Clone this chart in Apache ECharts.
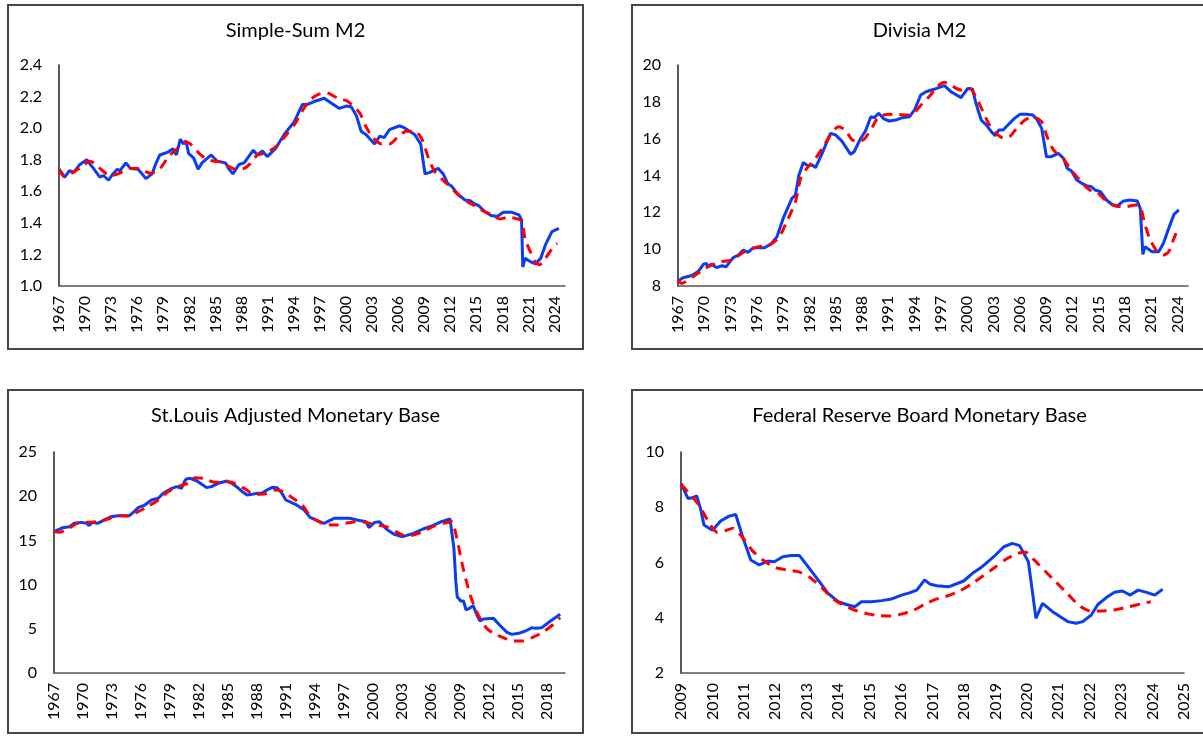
<!DOCTYPE html>
<html>
<head>
<meta charset="utf-8">
<title>Monetary aggregates</title>
<script src="https://cdn.jsdelivr.net/npm/echarts@6/dist/echarts.min.js"></script>
<style>
  html, body { margin: 0; padding: 0; background: #fff; overflow: hidden; }
  body { width: 1203px; height: 736px; position: relative; }
  .panel { position: absolute; box-sizing: border-box; border: 2px solid #474747; background: #fff; }
</style>
</head>
<body>
<div class="panel" id="p1" style="left:7px;top:4px;width:577px;height:346px"></div>
<div class="panel" id="p2" style="left:631px;top:4px;width:577px;height:346px"></div>
<div class="panel" id="p3" style="left:7px;top:389px;width:577px;height:345px"></div>
<div class="panel" id="p4" style="left:631px;top:389px;width:577px;height:345px"></div>
<script>
// [year, value]
const simpleSumActual = [
  [1967.0,1.74],[1967.65,1.69],[1968.2,1.73],[1968.7,1.72],[1969.4,1.77],[1970.2,1.80],[1970.6,1.77],[1970.9,1.75],
  [1971.7,1.69],[1972.1,1.70],[1972.7,1.67],[1973.2,1.71],[1973.7,1.74],[1974.0,1.73],[1974.7,1.78],[1975.2,1.745],
  [1976.1,1.74],[1977.0,1.68],[1977.7,1.71],[1978.1,1.77],[1978.6,1.83],[1979.6,1.85],[1980.1,1.87],[1980.5,1.83],
  [1980.95,1.93],[1981.3,1.90],[1981.6,1.92],[1981.9,1.84],[1982.5,1.81],[1983.0,1.74],[1983.45,1.78],[1984.5,1.83],
  [1985.2,1.79],[1986.15,1.78],[1986.5,1.745],[1987.0,1.71],[1987.7,1.77],[1988.3,1.78],[1989.35,1.86],[1989.8,1.83],
  [1990.4,1.855],[1990.95,1.82],[1991.9,1.87],[1992.9,1.96],[1994.05,2.04],[1995.0,2.15],[1995.6,2.15],[1996.4,2.17],
  [1997.0,2.18],[1997.5,2.19],[1998.3,2.16],[1999.25,2.125],[2000.0,2.14],[2000.6,2.135],[2001.2,2.08],[2001.75,1.98],
  [2002.3,1.96],[2003.3,1.90],[2003.9,1.95],[2004.4,1.94],[2005.0,1.99],[2006.2,2.015],[2006.8,2.00],[2007.9,1.96],
  [2008.6,1.90],[2009.1,1.71],[2009.65,1.72],[2010.6,1.745],[2011.2,1.71],[2011.7,1.65],[2012.2,1.63],[2012.9,1.58],
  [2013.7,1.545],[2014.3,1.54],[2014.8,1.52],[2015.25,1.51],[2016.0,1.47],[2016.7,1.446],[2017.4,1.44],[2018.1,1.467],
  [2019.1,1.467],[2019.9,1.45],[2020.2,1.42],[2020.35,1.12],[2020.6,1.175],[2021.2,1.155],[2021.8,1.14],[2022.4,1.175],
  [2022.95,1.26],[2023.7,1.345],[2024.5,1.365]
]
const simpleSumFitted = [
  [1967.0,1.74],[1967.65,1.69],[1968.6,1.72],[1969.6,1.755],[1970.55,1.79],[1971.3,1.77],[1971.7,1.745],[1972.9,1.70],
  [1973.8,1.71],[1975.2,1.745],[1976.1,1.745],[1977.5,1.715],[1978.5,1.735],[1979.6,1.82],[1980.6,1.87],[1981.55,1.91],
  [1982.1,1.90],[1983.3,1.83],[1984.0,1.805],[1984.8,1.79],[1985.8,1.785],[1986.3,1.765],[1987.3,1.74],[1988.3,1.745],
  [1989.0,1.775],[1989.8,1.83],[1990.6,1.84],[1991.35,1.86],[1992.1,1.89],[1993.1,1.955],[1994.05,2.02],[1995.0,2.11],
  [1995.9,2.18],[1996.9,2.215],[1997.7,2.225],[1999.05,2.19],[2000.2,2.17],[2001.6,2.095],[2002.3,2.01],[2003.1,1.94],
  [2004.1,1.90],[2005.0,1.90],[2006.0,1.945],[2006.95,1.98],[2007.9,1.98],[2008.7,1.935],[2009.5,1.81],[2010.2,1.725],
  [2011.0,1.68],[2011.75,1.64],[2012.5,1.60],[2013.3,1.56],[2014.1,1.53],[2015.05,1.50],[2015.8,1.475],[2016.8,1.45],
  [2017.75,1.425],[2018.7,1.435],[2019.7,1.425],[2020.2,1.41],[2020.65,1.29],[2021.2,1.22],[2021.8,1.15],[2022.25,1.135],
  [2022.95,1.175],[2023.5,1.22],[2024.3,1.27]
]

const divisiaActual = [
  [1967.0,8.27],[1967.57,8.45],[1968.5,8.56],[1969.3,8.78],[1969.9,9.18],[1970.25,9.23],[1970.4,9.05],[1970.8,9.18],
  [1971.4,9.0],[1972.0,9.1],[1972.5,9.05],[1973.3,9.54],[1973.9,9.68],[1974.45,9.95],[1975.0,9.83],[1975.6,10.08],
  [1976.9,10.08],[1977.7,10.32],[1978.3,10.68],[1979.0,11.67],[1980.0,12.76],[1980.4,12.94],[1980.8,14.03],[1981.3,14.71],
  [1981.8,14.53],[1982.3,14.57],[1982.7,14.43],[1983.4,15.15],[1984.4,16.29],[1985.0,16.2],[1985.7,15.87],[1986.7,15.15],
  [1987.1,15.29],[1987.8,15.98],[1988.4,16.42],[1989.0,17.19],[1989.4,17.14],[1989.9,17.38],[1990.5,17.07],[1991.1,16.96],
  [1991.85,17.01],[1992.6,17.14],[1993.4,17.19],[1994.0,17.56],[1994.7,18.37],[1995.3,18.55],[1996.2,18.68],[1996.4,18.73],
  [1997.4,18.88],[1998.15,18.55],[1999.3,18.23],[2000.07,18.73],[2000.6,18.7],[2001.0,17.92],[2001.6,17.01],[2002.2,16.74],
  [2002.75,16.38],[2003.2,16.16],[2003.6,16.47],[2004.1,16.47],[2004.65,16.74],[2005.4,17.1],[2006.0,17.32],[2006.75,17.32],
  [2007.5,17.28],[2008.0,17.01],[2008.5,16.56],[2009.05,15.02],[2009.6,15.02],[2010.4,15.2],[2011.0,14.93],[2011.4,14.39],
  [2011.9,14.24],[2012.5,13.76],[2013.1,13.57],[2013.6,13.45],[2014.2,13.39],[2014.6,13.21],[2015.2,13.12],[2015.9,12.67],
  [2016.6,12.4],[2017.15,12.36],[2017.85,12.62],[2018.6,12.67],[2019.4,12.62],[2019.75,12.22],[2020.05,9.72],[2020.3,10.14],
  [2021.1,9.86],[2021.85,9.86],[2022.4,10.32],[2023.0,11.13],[2023.6,11.89],[2024.15,12.13]
]
const divisiaFitted = [
  [1967.0,8.33],[1967.4,8.14],[1968.7,8.5],[1970.1,8.96],[1971.6,9.29],[1973.1,9.41],[1974.6,9.86],[1976.2,10.14],
  [1977.3,10.19],[1978.5,10.62],[1979.4,11.49],[1980.4,12.58],[1981.0,13.85],[1981.7,14.39],[1982.7,14.93],[1983.6,15.57],
  [1984.4,16.2],[1985.3,16.65],[1986.1,16.47],[1986.9,15.93],[1987.8,15.87],[1988.4,16.05],[1989.2,16.65],[1989.9,17.19],
  [1991.1,17.32],[1992.0,17.32],[1993.2,17.28],[1994.0,17.43],[1994.9,17.92],[1995.7,18.3],[1996.6,18.82],[1997.4,19.06],
  [1997.96,18.95],[1999.3,18.64],[2000.3,18.73],[2001.0,18.28],[2001.8,17.47],[2002.55,16.74],[2003.3,16.29],[2004.1,16.05],
  [2004.85,16.11],[2005.8,16.65],[2006.6,17.01],[2007.5,17.19],[2008.5,16.92],[2009.05,16.2],[2009.6,15.57],[2010.2,15.2],
  [2011.0,14.9],[2011.7,14.39],[2012.5,13.94],[2013.25,13.52],[2014.0,13.21],[2014.8,13.09],[2015.55,12.76],[2016.3,12.49],
  [2017.3,12.31],[2018.2,12.31],[2019.2,12.4],[2019.75,12.31],[2020.3,11.31],[2020.9,10.5],[2021.7,9.86],[2022.4,9.68],
  [2023.0,9.86],[2023.6,10.59],[2024.05,11.1]
]

const stLouisActual = [
  [1967.0,16.0],[1967.9,16.44],[1968.6,16.55],[1969.1,16.93],[1969.8,17.04],[1970.4,16.93],[1970.6,16.67],[1971.0,17.04],
  [1971.5,16.93],[1972.2,17.3],[1972.9,17.68],[1973.6,17.8],[1974.3,17.8],[1974.8,17.8],[1975.3,18.25],[1975.7,18.7],
  [1976.4,19.0],[1977.1,19.57],[1977.8,19.76],[1978.3,20.32],[1979.2,20.89],[1979.7,21.08],[1980.2,20.89],[1980.35,20.7],
  [1980.5,21.64],[1980.7,21.95],[1981.1,22.02],[1981.2,22.2],[1981.8,21.72],[1982.3,21.34],[1982.8,20.97],[1983.3,21.08],
  [1984.0,21.46],[1984.9,21.72],[1985.4,21.46],[1985.9,21.08],[1986.4,20.59],[1987.0,20.14],[1987.5,20.21],[1988.0,20.32],
  [1988.5,20.32],[1989.05,20.7],[1989.6,21.0],[1990.1,20.97],[1990.6,20.32],[1991.0,19.57],[1992.0,19.08],[1992.9,18.44],
  [1993.5,17.6],[1994.1,17.31],[1994.95,16.93],[1996.0,17.5],[1996.9,17.5],[1997.6,17.5],[1998.4,17.31],[1999.3,17.12],
  [1999.6,16.44],[2000.2,17.04],[2000.7,17.12],[2001.4,16.29],[2002.2,15.69],[2003.1,15.42],[2004.2,15.8],[2005.2,16.29],
  [2006.2,16.67],[2007.1,17.12],[2008.0,17.42],[2008.15,17.31],[2008.4,14.1],[2008.6,10.33],[2008.74,8.63],[2009.1,8.14],
  [2009.4,8.14],[2009.65,7.13],[2010.0,7.32],[2010.4,7.62],[2010.75,6.64],[2011.1,5.88],[2011.45,6.11],[2012.5,6.18],
  [2013.2,5.35],[2013.9,4.6],[2014.4,4.37],[2015.1,4.49],[2015.8,4.75],[2016.5,5.13],[2016.8,5.05],[2017.5,5.13],
  [2018.4,5.88],[2019.4,6.64]
]
const stLouisFitted = [
  [1967.0,15.99],[1967.5,15.91],[1968.4,16.29],[1969.4,16.93],[1970.5,17.04],[1971.5,17.12],[1972.6,17.42],[1973.6,17.8],
  [1974.6,17.76],[1975.7,18.25],[1976.7,18.82],[1977.8,19.57],[1978.8,20.51],[1979.8,21.08],[1980.9,21.46],[1981.6,22.1],
  [1982.5,22.02],[1983.35,21.64],[1984.2,21.57],[1985.1,21.64],[1985.9,21.34],[1986.8,20.81],[1987.5,20.32],[1988.5,20.21],
  [1989.05,20.32],[1989.9,20.7],[1990.8,20.51],[1991.65,19.83],[1992.7,19.0],[1993.5,17.8],[1994.1,17.31],[1994.95,16.86],
  [1996.2,16.74],[1997.2,16.93],[1998.25,17.12],[1999.3,17.04],[2000.3,16.74],[2001.4,16.55],[2002.4,15.99],[2003.3,15.54],
  [2004.2,15.61],[2005.2,15.99],[2006.2,16.55],[2007.3,16.93],[2008.15,17.12],[2008.7,15.23],[2009.2,12.59],[2009.7,10.33],
  [2010.2,8.45],[2010.75,6.94],[2011.3,5.81],[2011.8,5.05],[2012.5,4.49],[2013.5,4.0],[2014.6,3.62],[2015.6,3.62],
  [2016.7,4.11],[2017.7,4.68],[2018.6,5.43],[2019.4,6.26]
]

const fedActual = [
  [2009.0,8.86],[2009.22,8.32],[2009.36,8.34],[2009.5,8.41],[2009.62,7.96],[2009.73,7.36],[2010.0,7.17],[2010.26,7.5],
  [2010.53,7.68],[2010.74,7.74],[2010.96,6.93],[2011.22,6.09],[2011.49,5.91],[2011.76,6.05],[2011.97,6.03],[2012.24,6.21],
  [2012.5,6.25],[2012.77,6.25],[2013.04,5.85],[2013.36,5.37],[2013.68,4.88],[2014.0,4.58],[2014.26,4.48],[2014.53,4.4],
  [2014.74,4.58],[2015.06,4.58],[2015.38,4.62],[2015.7,4.68],[2016.02,4.82],[2016.29,4.91],[2016.5,5.0],[2016.75,5.37],
  [2016.93,5.21],[2017.14,5.16],[2017.51,5.12],[2017.99,5.33],[2018.31,5.64],[2018.58,5.85],[2018.95,6.21],[2019.27,6.57],
  [2019.54,6.69],[2019.77,6.61],[2020.05,6.03],[2020.29,3.98],[2020.5,4.52],[2020.82,4.22],[2021.3,3.86],[2021.57,3.8],
  [2021.78,3.86],[2022.05,4.1],[2022.26,4.48],[2022.53,4.73],[2022.79,4.92],[2023.04,4.97],[2023.29,4.82],[2023.54,5.0],
  [2023.81,4.92],[2024.07,4.82],[2024.32,5.03]
]
const fedFitted = [
  [2009.0,8.83],[2009.55,8.11],[2009.92,7.39],[2010.16,7.09],[2010.41,7.15],[2010.65,7.24],[2010.96,6.9],[2011.27,6.43],
  [2011.63,6.07],[2012.0,5.82],[2012.37,5.73],[2012.73,5.67],[2013.1,5.46],[2013.47,5.1],[2013.84,4.68],[2014.2,4.44],
  [2014.51,4.28],[2014.94,4.14],[2015.3,4.08],[2015.67,4.06],[2016.04,4.14],[2016.41,4.28],[2016.78,4.5],[2017.14,4.68],
  [2017.5,4.8],[2017.88,4.98],[2018.24,5.22],[2018.61,5.52],[2018.98,5.82],[2019.35,6.13],[2019.71,6.33],[2019.96,6.37],
  [2020.2,6.13],[2020.57,5.7],[2020.94,5.28],[2021.3,4.86],[2021.67,4.44],[2022.04,4.24],[2022.29,4.24],[2022.77,4.28],
  [2023.26,4.4],[2023.63,4.5],[2023.94,4.58]
]

const FONT = 'Lato, "Noto Sans", sans-serif'
const BLUE = '#0a3cf2'
const RED = '#ff0000'

const makePanel = (id, cfg) => {
  const chart = echarts.init(document.getElementById(id))
  const shift = arr => arr.map(([t, v]) => [t - cfg.xBase, v])
  chart.setOption({
    animation: false,
    title: {
      text: cfg.title,
      left: 'center',
      top: 10,
      textStyle: { fontFamily: FONT, fontSize: 20, fontWeight: 'normal', color: '#000' }
    },
    grid: Object.assign({ outerBoundsMode: 'none' }, cfg.grid),
    xAxis: {
      type: 'value',
      min: cfg.xMin,
      max: cfg.xMax,
      interval: cfg.xStep,
      axisLine: { show: true, onZero: false, lineStyle: { color: '#555', width: 1.5 } },
      axisTick: { show: false },
      splitLine: { show: false },
      axisLabel: {
        rotate: 90,
        margin: 10,
        fontFamily: FONT,
        fontSize: 16,
        color: '#000',
        showMaxLabel: cfg.showMaxX,
        formatter: v => String(Math.round(v + cfg.xBase))
      }
    },
    yAxis: {
      type: 'value',
      min: cfg.yMin,
      max: cfg.yMax,
      interval: cfg.yStep,
      axisLine: { show: true, lineStyle: { color: '#222', width: 1.5 } },
      axisTick: { show: false },
      splitLine: { show: false },
      axisLabel: {
        margin: 17,
        fontFamily: FONT,
        fontSize: 16,
        color: '#000',
        formatter: v => v.toFixed(cfg.yDigits)
      }
    },
    series: [
      {
        type: 'line',
        data: shift(cfg.actual),
        showSymbol: false,
        lineStyle: { color: BLUE, width: 3 },
        itemStyle: { color: BLUE }
      },
      {
        type: 'line',
        data: shift(cfg.fitted),
        showSymbol: false,
        smooth: 0.25,
        lineStyle: { color: RED, width: 3, type: [10, 7] },
        itemStyle: { color: RED }
      }
    ]
  })
  return chart
}

makePanel('p1', {
  title: 'Simple-Sum M2',
  grid: { left: 50, top: 59, right: 17, bottom: 62 },
  xBase: 1967, xMin: 0, xMax: 58.2, xStep: 3, showMaxX: false,
  yMin: 1.0, yMax: 2.4, yStep: 0.2, yDigits: 1,
  actual: simpleSumActual, fitted: simpleSumFitted
})

makePanel('p2', {
  title: 'Divisia M2',
  grid: { left: 45, top: 59, right: 18, bottom: 62 },
  xBase: 1967, xMin: 0, xMax: 58.2, xStep: 3, showMaxX: false,
  yMin: 8, yMax: 20, yStep: 2, yDigits: 0,
  actual: divisiaActual, fitted: divisiaFitted
})

makePanel('p3', {
  title: 'St.Louis Adjusted Monetary Base',
  grid: { left: 45, top: 61, right: 17, bottom: 59 },
  xBase: 1967, xMin: 0, xMax: 52.9, xStep: 3, showMaxX: false,
  yMin: 0, yMax: 25, yStep: 5, yDigits: 0,
  actual: stLouisActual, fitted: stLouisFitted
})

makePanel('p4', {
  title: 'Federal Reserve Board Monetary Base',
  grid: { left: 48, top: 61, right: 22, bottom: 59 },
  xBase: 0, xMin: 2009, xMax: 2025, xStep: 1, showMaxX: true,
  yMin: 2, yMax: 10, yStep: 2, yDigits: 0,
  actual: fedActual, fitted: fedFitted
})
</script>
</body>
</html>
